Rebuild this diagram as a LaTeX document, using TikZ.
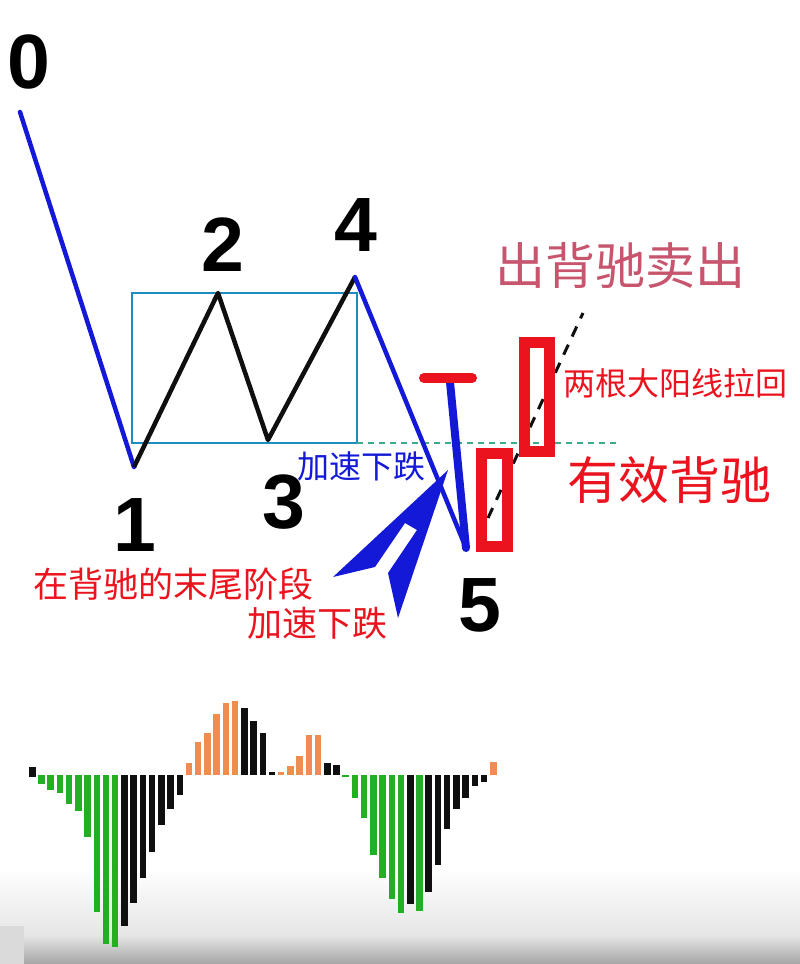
\documentclass[tikz,border=0pt]{standalone}
\usepackage{fontspec}
\setmainfont{Liberation Sans}
\newfontfamily\cjk{Noto Sans CJK SC}
\definecolor{wblue}{RGB}{20,25,215}
\definecolor{boxblue}{RGB}{30,140,190}
\definecolor{cred}{RGB}{235,20,30}
\definecolor{pinkred}{RGB}{200,85,110}
\definecolor{dashgreen}{RGB}{60,170,140}
\definecolor{bgreen}{RGB}{35,175,35}
\definecolor{borange}{RGB}{240,140,80}
\definecolor{bblack}{RGB}{15,15,15}
\definecolor{gA}{RGB}{230,230,230}
\definecolor{gB}{RGB}{165,165,165}
\definecolor{gC}{RGB}{218,218,218}
\tikzset{
  digit/.style={inner sep=0pt, font=\fontsize{77}{77}\selectfont\bfseries},
  cjklabel/.style={inner sep=0pt, font=\cjk},
  wave/.style={wblue, line width=4.5pt, line cap=round, line join=round},
  zig/.style={bblack, line width=4.5pt, line join=round},
}
\begin{document}
\begin{tikzpicture}[x=1pt,y=-1pt]
\useasboundingbox (0,0) rectangle (800,964);
\fill[white] (0,0) rectangle (800,964);
% bottom gradient
\shade[top color=white, bottom color=gA] (0,868) rectangle (800,935);
\shade[top color=gA, bottom color=gB] (0,935) rectangle (800,964);
\fill[gC] (0,926) rectangle (24,964);

% key points
\coordinate (p0) at (20,112);
\coordinate (p1) at (134,467);
\coordinate (p2) at (218,293);
\coordinate (p3) at (268,440);
\coordinate (p4) at (355,277);
\coordinate (p5) at (466,548);
\coordinate (hl0) at (357,443);
\coordinate (hl1) at (620,443);
\coordinate (tb0) at (424,378);
\coordinate (tb1) at (472,378);
\coordinate (tbase) at (450,382);
\coordinate (d0) at (488,518);
\coordinate (d1) at (583,313);

% consolidation box
\draw[boxblue, line width=2.5pt] (132,293) rectangle (357,443);
% green dashed level
\draw[dashgreen, line width=1.5pt, dash pattern=on 6pt off 5pt] (hl0) -- (hl1);

% waves
\draw[wave] (p0) -- (p1);
\draw[zig] (p1) -- (p2) -- (p3) -- (p4);
\draw[wave] (p4) -- (p5);
\draw[wblue, line width=8pt, line cap=round] (tbase) -- (p5);
\draw[cred, line width=10pt, line cap=round] (tb0) -- (tb1);

% blue split arrow
\fill[wblue] (448,470) -- (333,577) -- (375,567) -- (405,523) -- (417,530) -- (388,573) -- (398,618) -- cycle;

% dashed trend through candles
\draw[bblack, line width=3pt, dash pattern=on 11pt off 9pt] (d0) -- (d1);
% candles
\draw[cred, line width=11pt] (481.5,453.5) rectangle (507.5,546.5);
\draw[cred, line width=11pt] (524.5,342.5) rectangle (549.5,451.5);

% digits
\node[digit] (n0) at (28.5,61.5) {0};
\node[digit] (n1) at (135,525) {1};
\node[digit] (n2) at (222.5,244.5) {2};
\node[digit] (n3) at (283.5,502.5) {3};
\node[digit] (n4) at (356,225.5) {4};
\node[digit] (n5) at (480,605.5) {5};

% labels
\node[cjklabel, text=pinkred, font=\cjk\fontsize{50}{50}\selectfont] (t1) at (620,265) {出背驰卖出};
\node[cjklabel, text=cred, font=\cjk\fontsize{32}{32}\selectfont] (t2) at (675.5,383.5) {两根大阳线拉回};
\node[cjklabel, text=cred, font=\cjk\fontsize{51}{51}\selectfont] (t3) at (669,480) {有效背驰};
\node[cjklabel, text=wblue, font=\cjk\fontsize{32}{32}\selectfont] (t4) at (361,466) {加速下跌};
\node[cjklabel, text=cred, font=\cjk\fontsize{35}{35}\selectfont] (t5) at (173.5,584) {在背驰的末尾阶段};
\node[cjklabel, text=cred, font=\cjk\fontsize{35}{35}\selectfont] (t6) at (317.5,623) {加速下跌};

% MACD histogram
\fill[bblack] (29,767) rectangle (35.5,777);
\foreach \i/\c/\v in {
 1/bgreen/784, 2/bgreen/790, 3/bgreen/793, 4/bgreen/804, 5/bgreen/811,
 6/bgreen/837, 7/bgreen/912, 8/bgreen/944, 9/bgreen/947,
 10/bblack/926, 11/bblack/903, 12/bblack/878, 13/bblack/852, 14/bblack/825,
 15/bblack/809, 16/bblack/795,
 17/borange/763, 18/borange/742, 19/borange/733, 20/borange/714, 21/borange/703, 22/borange/701,
 23/bblack/708, 24/bblack/721, 25/bblack/733, 26/bblack/772,
 27/borange/772, 28/borange/766, 29/borange/756, 30/borange/735, 31/borange/735,
 32/bblack/763, 33/bblack/765,
 34/bgreen/777, 35/bgreen/798, 36/bgreen/818, 37/bgreen/855, 38/bgreen/878,
 39/bgreen/899, 40/bgreen/913, 41/bblack/904, 42/bgreen/911,
 43/bblack/892, 44/bblack/865, 45/bblack/829, 46/bblack/809, 47/bblack/798,
 48/bblack/786, 49/bblack/782, 50/borange/762}
{
  \pgfmathsetmacro{\xl}{29+9.22*\i}
  \fill[\c] (\xl,775) rectangle (\xl+6.5,\v);
}
\end{tikzpicture}
\end{document}
